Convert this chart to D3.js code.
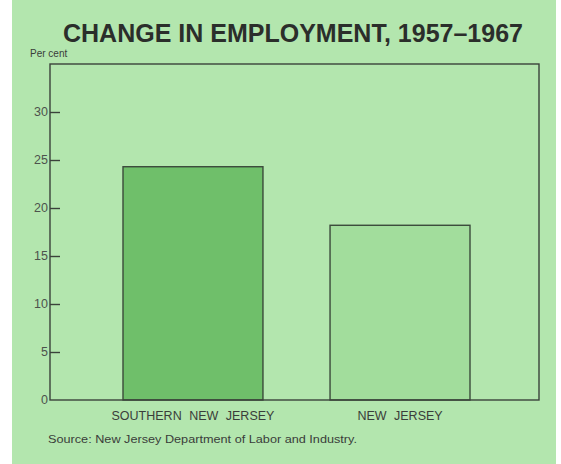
<!DOCTYPE html>
<html>
<head>
<meta charset="utf-8">
<script src="https://d3js.org/d3.v7.min.js"></script>
<style>
  body { margin: 0; background: #fff; }
  svg { display: block; }
</style>
</head>
<body>
<div id="chart"></div>
<script>
// data
var regions = ["SOUTHERN NEW JERSEY", "NEW JERSEY"];
var change = [24.3, 18.2];
var yTicks = [0, 5, 10, 15, 20, 25, 30];

var W = 561, H = 464;
var margin = { top: 64, right: 22, bottom: 64, left: 50 },
    width = W - margin.left - margin.right,
    height = H - margin.top - margin.bottom;

var svg = d3.select("#chart").append("svg")
    .attr("width", W)
    .attr("height", H)
    .style("font-family", "'Liberation Sans', Arial, sans-serif");

// green paper
svg.append("rect")
    .attr("x", 12).attr("y", 0)
    .attr("width", 544).attr("height", H)
    .attr("fill", "#b3e6ae");

svg.append("text")
    .attr("x", 293).attr("y", 42)
    .attr("text-anchor", "middle")
    .attr("font-size", 25)
    .attr("font-weight", "bold")
    .attr("fill", "#2b2e2b")
    .attr("textLength", 460)
    .attr("lengthAdjust", "spacingAndGlyphs")
    .text("CHANGE IN EMPLOYMENT, 1957\u20131967");

svg.append("text")
    .attr("x", 30).attr("y", 57)
    .attr("font-size", 10)
    .attr("fill", "#3a3d3a")
    .text("Per cent");

var g = svg.append("g")
    .attr("transform", "translate(" + margin.left + "," + margin.top + ")");

var y = d3.scaleLinear()
    .domain([0, 35])
    .range([height, 0]);

var band = d3.scaleBand()
    .domain(regions)
    .range([73, 420])
    .paddingInner(0.324)
    .paddingOuter(0);

var fills = ["#6fbf6a", "#a2dd9c"];

g.selectAll(".bar")
    .data(regions)
    .enter().append("rect")
    .attr("class", "bar")
    .attr("x", function (d) { return band(d); })
    .attr("width", band.bandwidth())
    .attr("y", function (d, i) { return y(change[i]); })
    .attr("height", function (d, i) { return height - y(change[i]); })
    .attr("fill", function (d, i) { return fills[i]; })
    .attr("stroke", "#3b4a3b")
    .attr("stroke-width", 1.4);

// frame
g.append("rect")
    .attr("width", width).attr("height", height)
    .attr("fill", "none")
    .attr("stroke", "#3b423b")
    .attr("stroke-width", 1.4);

var yAxis = g.append("g")
    .call(d3.axisRight(y).tickValues(yTicks).tickSize(10).tickFormat(function (d) { return d; }));
yAxis.select(".domain").remove();
yAxis.selectAll("line").attr("stroke", "#3b423b").attr("stroke-width", 1.4);
yAxis.selectAll("text")
    .attr("x", -2)
    .attr("dy", "0.28em")
    .attr("text-anchor", "end")
    .attr("font-size", 12.5)
    .attr("fill", "#4d524d");
yAxis.selectAll(".tick").filter(function (d) { return d === 0; }).select("line").remove();

g.selectAll(".cat")
    .data(regions)
    .enter().append("text")
    .attr("class", "cat")
    .attr("x", function (d) { return band(d) + band.bandwidth() / 2; })
    .attr("y", height + 20)
    .attr("text-anchor", "middle")
    .attr("font-size", 12.5)
    .attr("word-spacing", 4)
    .attr("fill", "#3a3d3a")
    .text(function (d) { return d; });

svg.append("text")
    .attr("x", 48).attr("y", 443)
    .attr("font-size", 11.5)
    .attr("fill", "#3a3d3a")
    .attr("textLength", 309)
    .attr("lengthAdjust", "spacingAndGlyphs")
    .text("Source: New Jersey Department of Labor and Industry.");
</script>
</body>
</html>
